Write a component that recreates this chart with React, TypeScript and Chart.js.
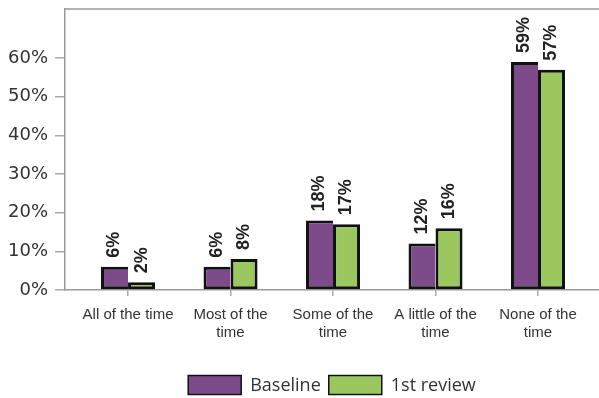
import { useEffect, useRef } from "react";
import { Chart, registerables } from "chart.js";
Chart.register(...registerables);

const categories = [
  ["All of the time"],
  ["Most of the", "time"],
  ["Some of the", "time"],
  ["A little of the", "time"],
  ["None of the", "time"],
];
const seriesNames = ["Baseline", "1st review"];
const baseline = [6, 6, 18, 12, 59];
const firstReview = [2, 8, 17, 16, 57];
const yTickValues = [0, 10, 20, 30, 40, 50, 60];
const seriesColors = ["#7d4b89", "#9bc75f"];

const dataLabelPlugin = {
  id: "dataLabels",
  afterDatasetsDraw(chart: any) {
    const ctx = chart.ctx;
    ctx.save();
    ctx.font = "bold 18px 'Liberation Sans', Arial, sans-serif";
    ctx.fillStyle = "#222";
    ctx.textAlign = "left";
    ctx.textBaseline = "middle";
    chart.data.datasets.forEach((ds: any, di: number) => {
      const meta = chart.getDatasetMeta(di);
      meta.data.forEach((bar: any, i: number) => {
        ctx.save();
        ctx.translate(bar.x, bar.y - 9);
        ctx.rotate(-Math.PI / 2);
        ctx.fillText(ds.data[i] + "%", 0, 0);
        ctx.restore();
      });
    });
    ctx.restore();
  },
};

const frameAndLegendPlugin = {
  id: "frameLegend",
  afterDraw(chart: any) {
    const ctx = chart.ctx;
    const a = chart.chartArea;
    ctx.save();
    ctx.strokeStyle = "#999";
    ctx.lineWidth = 1.5;
    ctx.beginPath();
    ctx.moveTo(a.left, a.top);
    ctx.lineTo(a.right, a.top);
    ctx.stroke();

    // legend
    ctx.font = "18px 'Open Sans', sans-serif";
    const boxW = 53, boxH = 19, gapText = 9, gapItem = 8;
    const widths = seriesNames.map((n) => boxW + gapText + ctx.measureText(n).width);
    const total = widths.reduce((s, w) => s + w, 0) + gapItem * (seriesNames.length - 1);
    let x = (a.left + a.right) / 2 - total / 2;
    const cy = 385;
    seriesNames.forEach((n, i) => {
      ctx.fillStyle = seriesColors[i];
      ctx.fillRect(x, cy - boxH / 2, boxW, boxH);
      ctx.strokeStyle = "#111";
      ctx.lineWidth = 1.5;
      ctx.strokeRect(x, cy - boxH / 2, boxW, boxH);
      ctx.fillStyle = "#333";
      ctx.textAlign = "left";
      ctx.textBaseline = "middle";
      ctx.fillText(n, x + boxW + gapText, cy + 1);
      x += widths[i] + gapItem;
    });
    ctx.restore();
  },
};

export default function App() {
  const ref = useRef<HTMLCanvasElement>(null);
  useEffect(() => {
    const chart = new Chart(ref.current!, {
      type: "bar",
      data: {
        labels: categories,
        datasets: [
          {
            label: seriesNames[0],
            data: baseline,
            backgroundColor: seriesColors[0],
            borderColor: "#111",
            borderWidth: { top: 3, left: 3, bottom: 3, right: 0 } as any,
            borderSkipped: false,
            barPercentage: 1,
            categoryPercentage: 0.527,
          },
          {
            label: seriesNames[1],
            data: firstReview,
            backgroundColor: seriesColors[1],
            borderColor: "#111",
            borderWidth: 3,
            borderSkipped: false,
            barPercentage: 1,
            categoryPercentage: 0.527,
          },
        ],
      },
      options: {
        animation: false,
        responsive: false,
        maintainAspectRatio: false,
        layout: { padding: { top: 9, left: 0, right: 0, bottom: 48 } },
        plugins: {
          legend: { display: false },
          tooltip: { enabled: false },
        },
        scales: {
          x: {
            type: "category",
            offset: true,
            afterBuildTicks: (scale: any) => {
              scale._startValue = -0.615;
              scale._valueRange = 5.21;
            },
            afterFit: (scale: any) => {
              scale.height = 60;
              scale.paddingLeft = 0;
              scale.paddingRight = 0;
            },
            grid: {
              display: true,
              drawOnChartArea: false,
              drawTicks: true,
              tickLength: 6,
              offset: false,
              color: "#aaa",
              lineWidth: 1.5,
            },
            border: { display: true, color: "#999", width: 1.5 },
            ticks: {
              color: "#333",
              font: { family: "'Liberation Sans', Arial, sans-serif", size: 15, lineHeight: 1.18 },
              padding: 10,
              maxRotation: 0,
              autoSkip: false,
            },
          },
          y: {
            min: 0,
            max: 72.7,
            afterBuildTicks: (scale: any) => {
              scale.ticks = yTickValues.map((v) => ({ value: v }));
            },
            afterFit: (scale: any) => {
              scale.width = 65;
              scale.paddingTop = 0;
              scale.paddingBottom = 0;
            },
            grid: {
              display: true,
              drawOnChartArea: false,
              drawTicks: true,
              tickLength: 10,
              color: "#aaa",
              lineWidth: 1.5,
            },
            border: { display: true, color: "#999", width: 1.5 },
            ticks: {
              color: "#333",
              font: { family: "'DejaVu Sans', sans-serif", size: 18 },
              padding: 7,
              callback: (v: any) => v + "%",
            },
          },
        },
      },
      plugins: [dataLabelPlugin, frameAndLegendPlugin],
    });
    return () => chart.destroy();
  }, []);
  return (
    <div style={{ position: "fixed", left: 0, top: 0, width: 599, height: 398, background: "#fff" }}>
      <canvas ref={ref} width={599} height={398} style={{ width: 599, height: 398 }} />
    </div>
  );
}
